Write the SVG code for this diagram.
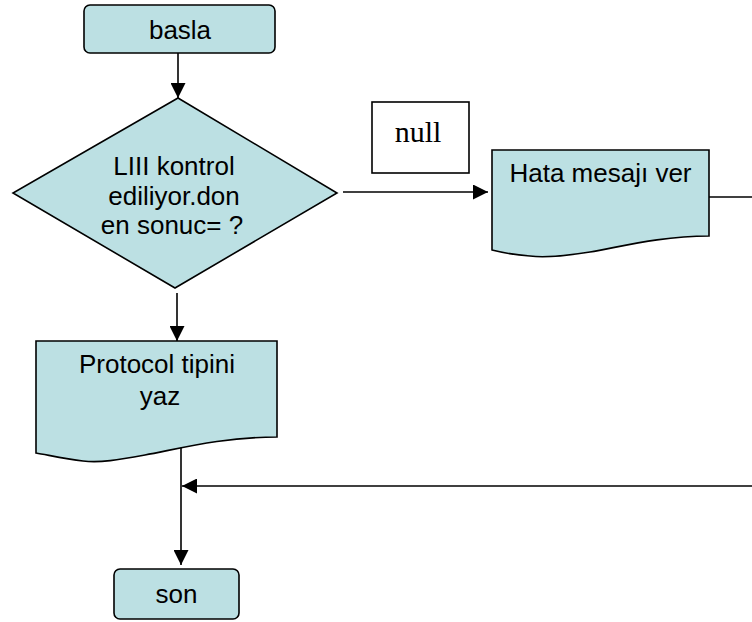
<svg xmlns="http://www.w3.org/2000/svg" width="752" height="622" viewBox="0 0 752 622">
<style>
.shape{fill:#bce0e3;stroke:#000;stroke-width:1.6}
.lbl{font-family:"Liberation Sans",Arial,sans-serif;font-size:26px;fill:#000;text-anchor:middle}
.ser{font-family:"Liberation Serif","Times New Roman",serif;font-size:30px;fill:#000;text-anchor:middle}
.conn{stroke:#000;stroke-width:1.6;fill:none}
</style>
<defs>
<marker id="ah" viewBox="0 0 15 15" refX="15" refY="7.5" markerWidth="15" markerHeight="15" markerUnits="userSpaceOnUse" orient="auto">
<path d="M0,0 L15,7.5 L0,15 Z" fill="#000"/>
</marker>
</defs>
<rect width="752" height="622" fill="#fff"/>
<g id="connectors">
<line class="conn" x1="178" y1="53" x2="178" y2="98" marker-end="url(#ah)"/>
<line class="conn" x1="343" y1="192" x2="488" y2="192" marker-end="url(#ah)"/>
<line class="conn" x1="177" y1="293" x2="177" y2="341" marker-end="url(#ah)"/>
<line class="conn" x1="709" y1="197" x2="752" y2="197"/>
<line class="conn" x1="752" y1="486" x2="182" y2="486" marker-end="url(#ah)"/>
<line class="conn" x1="181" y1="444" x2="181" y2="565" marker-end="url(#ah)"/>
</g>
<g id="basla">
<rect class="shape" x="84" y="5" width="191" height="48" rx="6"/>
<text class="lbl" x="180" y="39">basla</text>
</g>
<g id="kontrol">
<path class="shape" d="M178,98 L337,193 L175,288 L13,193 Z"/>
<text class="lbl" x="174" y="175">LIII kontrol</text>
<text class="lbl" x="174" y="204.5">ediliyor.don</text>
<text class="lbl" x="172" y="234">en sonuc= ?</text>
</g>
<g id="null">
<rect x="372" y="102" width="97" height="71" fill="#fff" stroke="#000" stroke-width="1.6"/>
<text class="ser" x="418" y="142">null</text>
</g>
<g id="hata">
<path class="shape" d="M492,150 H709 V236 C660,236 620,247 590,252 C565,256 545,258 530,256 C515,255 500,252 492,250 Z"/>
<text class="lbl" x="600.5" y="182">Hata mesajı ver</text>
</g>
<g id="protocol">
<path class="shape" d="M36,341 H277 V437 C222,437 178,449 145,455 C118,460 100,463 83,461 C65,459 48,455 36,453 Z"/>
<text class="lbl" x="157" y="373">Protocol tipini</text>
<text class="lbl" x="160" y="405">yaz</text>
</g>
<g id="son">
<rect class="shape" x="114" y="569" width="125" height="50" rx="6"/>
<text class="lbl" x="176.5" y="603">son</text>
</g>
</svg>
